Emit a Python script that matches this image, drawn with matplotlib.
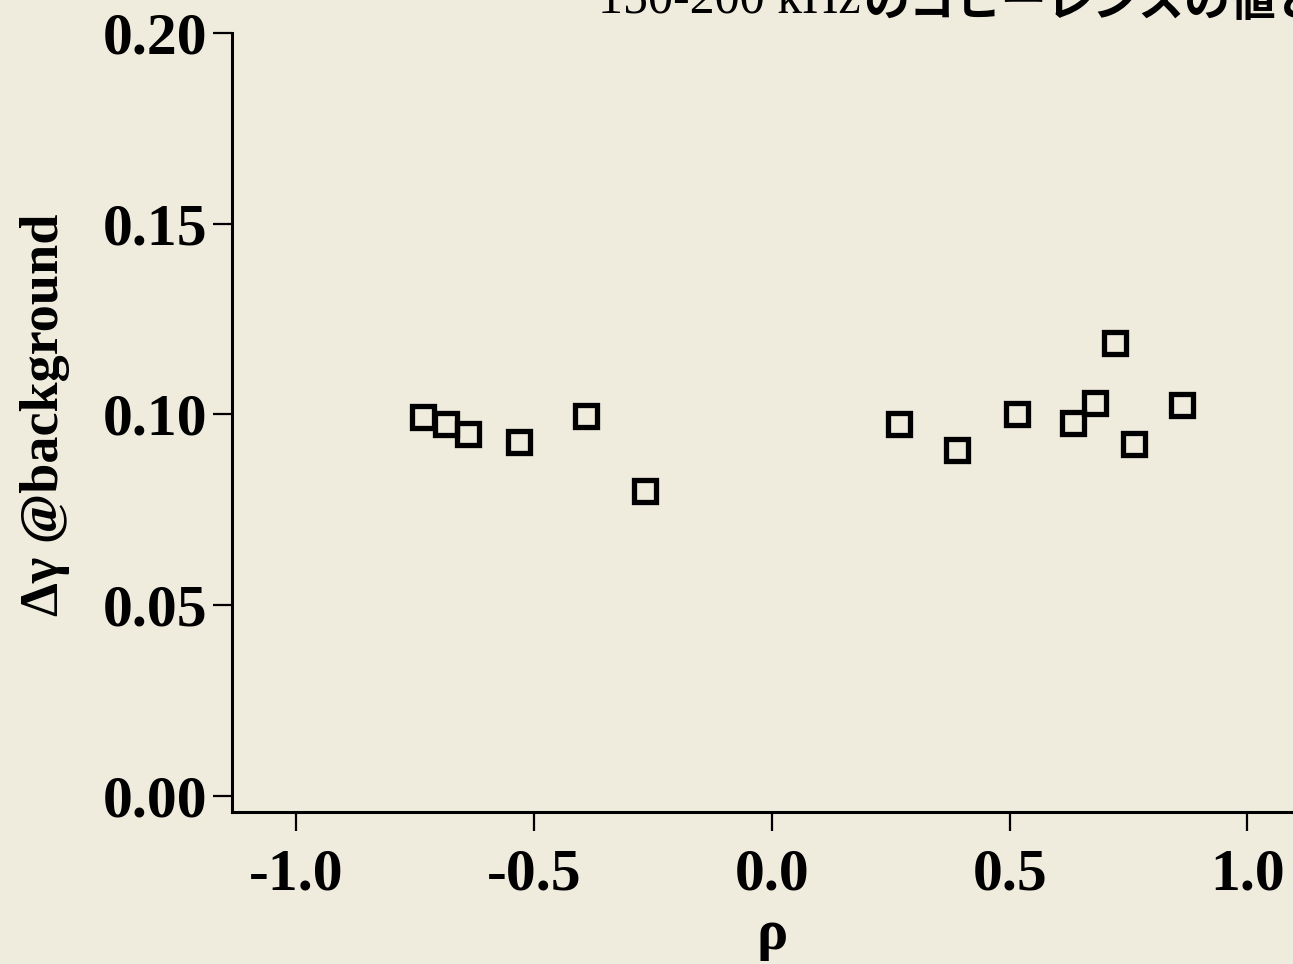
import matplotlib
matplotlib.use('Agg')
import matplotlib.pyplot as plt

# ρ と Δγ の値
rho = [-0.734, -0.686, -0.639, -0.532, -0.391, -0.267,
       0.267, 0.389, 0.515, 0.633, 0.679, 0.721, 0.761, 0.862]
delta_gamma = [0.0993, 0.0975, 0.0949, 0.0928, 0.0996, 0.0799,
               0.0975, 0.0907, 0.1001, 0.0978, 0.1030, 0.1187, 0.0923, 0.1025]

x_ticks = [-1.0, -0.5, 0.0, 0.5, 1.0]
y_ticks = [0.00, 0.05, 0.10, 0.15, 0.20]
titulo_latim = '150-200 kHz'
titulo_jp = 'のコヒーレンスの値と'

fundo = '#efebdd'
serif = 'Liberation Serif'


def principal():
    fig = plt.figure(figsize=(12.93, 9.64), dpi=100, facecolor=fundo)
    ax = fig.add_axes([0.1794, 0.1577, 0.8206, 0.8081])
    ax.set_facecolor(fundo)

    ax.plot(rho, delta_gamma, linestyle='none', marker='s', markersize=16.5,
            markerfacecolor='none', markeredgecolor='black', markeredgewidth=3.8)

    ax.set_xlim(-1.1357, 1.0957)
    ax.set_ylim(-0.0042, 0.20)
    ax.set_xticks(x_ticks)
    ax.set_yticks(y_ticks)
    ax.set_xticklabels([f'{v:.1f}' for v in x_ticks], fontfamily=serif,
                       fontsize=43, fontweight='bold')
    ax.set_yticklabels([f'{v:.2f}' for v in y_ticks], fontfamily=serif,
                       fontsize=43, fontweight='bold')

    for lado in ['top', 'right']:
        ax.spines[lado].set_visible(False)
    for lado in ['left', 'bottom']:
        ax.spines[lado].set_linewidth(2.2)
    ax.tick_params(axis='both', direction='out', length=14, width=1.6,
                   color='black', labelcolor='black')
    ax.tick_params(axis='x', pad=12)
    ax.tick_params(axis='y', pad=4)

    ax.set_ylabel('Δγ @background', fontfamily=serif, fontsize=39, fontweight='bold')
    ax.yaxis.set_label_coords(-0.176, 0.51)
    ax.yaxis.label.set_va('center')
    ax.set_xlabel('ρ', fontfamily=serif, fontsize=42, fontweight='bold')
    ax.xaxis.set_label_coords(0.509, -0.158)
    ax.xaxis.label.set_va('center')

    # título cortado no topo, como na figura original
    t1 = fig.text(598 / 1293, 1 - 14 / 964, titulo_latim, fontsize=36,
                  family=serif, ha='left', va='baseline')
    fig.canvas.draw()
    caixa = t1.get_window_extent(fig.canvas.get_renderer())
    fig.text(caixa.x1 / 1293 + 0.002, 1 - 16 / 964, titulo_jp, fontsize=33,
             family=['Noto Sans CJK JP', 'DejaVu Sans'], fontweight='bold',
             ha='left', va='baseline')

    fig.savefig('out.png', dpi=100, facecolor=fundo)


if __name__ == '__main__':
    principal()
